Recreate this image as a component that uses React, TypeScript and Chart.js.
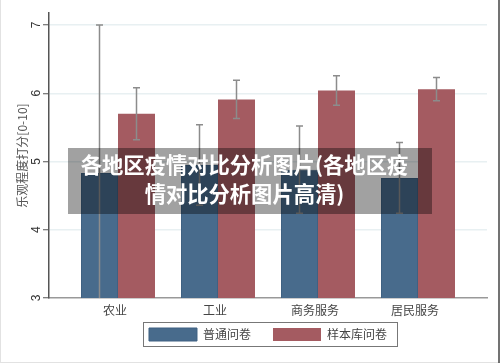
import React, { useEffect, useRef } from 'react';
import { Chart, registerables } from 'chart.js';

Chart.register(...registerables);

const categories = ['农业', '工业', '商务服务', '居民服务'];
const seriesNames = ['普通问卷', '样本库问卷'];
const generalValues = [4.83, 4.95, 4.88, 4.76];
const generalErrors = [2.17, 0.59, 0.64, 0.52];
const sampleValues = [5.7, 5.91, 6.04, 6.06];
const sampleErrors = [0.38, 0.28, 0.215, 0.17];
const yTickValues = [3, 4, 5, 6, 7];
const yTitle = '乐观程度打分[0-10]';
const overlayLine1 = '各地区疫情对比分析图片(各地区疫';
const overlayLine2 = '情对比分析图片高清)';

const FONT = "'Liberation Sans', 'Noto Sans CJK SC', sans-serif";
const CJK = "'Noto Sans CJK SC', sans-serif";
const LEG_PAD = 22;

const errorSets = [generalErrors, sampleErrors];

const bgPlugin = {
  id: 'bg',
  beforeDraw(chart: any) {
    const { ctx, width, height } = chart;
    ctx.save();
    ctx.fillStyle = '#ffffff';
    ctx.fillRect(0, 0, width, height);
    ctx.restore();
  },
  afterDraw(chart: any) {
    const { ctx, width, height } = chart;
    ctx.save();
    ctx.strokeStyle = '#e2e2e2';
    ctx.lineWidth = 1;
    ctx.beginPath();
    ctx.moveTo(0.5, 0);
    ctx.lineTo(0.5, height);
    ctx.moveTo(0, height - 0.5);
    ctx.lineTo(width, height - 0.5);
    ctx.stroke();
    ctx.strokeStyle = '#444';
    ctx.lineWidth = 1.5;
    ctx.beginPath();
    ctx.moveTo(width - 1, 0);
    ctx.lineTo(width - 1, height);
    ctx.stroke();
    ctx.restore();
  },
};

const errorBarPlugin = {
  id: 'errorBars',
  afterDatasetsDraw(chart: any) {
    const { ctx, chartArea } = chart;
    const ys = chart.scales.y;
    ctx.save();
    ctx.beginPath();
    ctx.rect(chartArea.left, chartArea.top - 2, chartArea.right - chartArea.left, chartArea.bottom - chartArea.top + 2);
    ctx.clip();
    ctx.strokeStyle = '#8c8c8c';
    ctx.lineWidth = 1.5;
    chart.data.datasets.forEach((ds: any, di: number) => {
      const meta = chart.getDatasetMeta(di);
      meta.data.forEach((bar: any, i: number) => {
        const v = ds.data[i].y;
        const e = errorSets[di][i];
        const x = bar.x;
        const yT = ys.getPixelForValue(v + e);
        const yB = ys.getPixelForValue(v - e);
        ctx.beginPath();
        ctx.moveTo(x, yT);
        ctx.lineTo(x, yB);
        ctx.moveTo(x - 3.5, yT);
        ctx.lineTo(x + 3.5, yT);
        ctx.moveTo(x - 3.5, yB);
        ctx.lineTo(x + 3.5, yB);
        ctx.stroke();
      });
    });
    ctx.restore();
  },
};

const axisLabelPlugin = {
  id: 'axisLabels',
  afterDraw(chart: any) {
    const { ctx } = chart;
    const ys = chart.scales.y;
    const xs = chart.scales.x;
    ctx.save();
    ctx.fillStyle = '#333';
    ctx.font = `12px ${FONT}`;
    ctx.textAlign = 'center';
    ctx.textBaseline = 'middle';
    yTickValues.forEach((v) => {
      const y = ys.getPixelForValue(v);
      ctx.save();
      ctx.translate(37, y);
      ctx.rotate(-Math.PI / 2);
      ctx.fillText(String(v), 0, 0);
      ctx.restore();
    });
    ctx.fillStyle = '#444';
    ctx.font = `12px ${CJK}`;
    categories.forEach((c, i) => {
      const x = xs.getPixelForValue(i);
      ctx.fillText(c, x - 3, xs.top + 12);
    });
    ctx.restore();
  },
};

const legendFramePlugin = {
  id: 'legendFrame',
  afterDraw(chart: any) {
    const lg = chart.legend;
    if (!lg || !lg.legendHitBoxes || !lg.legendHitBoxes.length) return;
    const hb = lg.legendHitBoxes;
    let l = Infinity, r = -Infinity, t = Infinity, b = -Infinity;
    hb.forEach((h: any) => {
      l = Math.min(l, h.left);
      r = Math.max(r, h.left + h.width);
      t = Math.min(t, h.top);
      b = Math.max(b, h.top + h.height);
    });
    const { ctx } = chart;
    ctx.save();
    ctx.strokeStyle = '#777';
    ctx.lineWidth = 1;
    ctx.strokeRect(Math.round(l - 6) + 0.5, Math.round(t - 6) + 0.5, Math.round(r - l + 16), Math.round(b - t + 11));
    ctx.restore();
  },
};

export default function App() {
  const canvasRef = useRef<HTMLCanvasElement | null>(null);

  useEffect(() => {
    if (!canvasRef.current) return;
    const chart = new Chart(canvasRef.current, {
      type: 'bar',
      data: {
        datasets: [
          {
            label: seriesNames[0],
            data: generalValues.map((v, i) => ({ x: i, y: v })),
            backgroundColor: '#486b8c',
            borderColor: '#3f6182',
            borderWidth: 1,
            categoryPercentage: 0.74,
            barPercentage: 1,
          },
          {
            label: seriesNames[1],
            data: sampleValues.map((v, i) => ({ x: i, y: v })),
            backgroundColor: '#a45b61',
            borderColor: '#a45b61',
            borderWidth: 0,
            categoryPercentage: 0.74,
            barPercentage: 1,
          },
        ],
      } as any,
      options: {
        animation: false,
        responsive: false,
        devicePixelRatio: 1,
        layout: { padding: { top: 13, right: 13, bottom: 12, left: 0 } },
        scales: {
          x: {
            type: 'linear',
            offset: false,
            min: -0.69,
            max: 3.69,
            grid: { display: false, drawTicks: false, offset: false },
            border: { display: true, color: '#999', width: 1.5 },
            ticks: { display: false },
            afterBuildTicks: (scale: any) => {
              scale.ticks = categories.map((_, i) => ({ value: i }));
            },
            afterFit: (scale: any) => {
              scale.height = 30 - LEG_PAD;
            },
          },
          y: {
            type: 'linear',
            min: 3,
            max: 7.176,
            grid: {
              color: (c: any) => (c.tick && c.tick.value === 3 ? 'rgba(0,0,0,0)' : '#e8f0f2'),
              lineWidth: 1.5,
              drawTicks: true,
              tickLength: 6,
              tickColor: '#555',
              tickWidth: 1,
            },
            border: { display: true, color: '#555', width: 1.5 },
            ticks: { display: false },
            title: {
              display: true,
              text: yTitle,
              color: '#555',
              font: { size: 12, family: CJK },
              padding: { top: 15, bottom: 0 },
            },
            afterBuildTicks: (scale: any) => {
              scale.ticks = yTickValues.map((v) => ({ value: v }));
            },
            afterFit: (scale: any) => {
              scale.width = 49;
            },
          },
        },
        plugins: {
          legend: {
            position: 'bottom',
            fullSize: false,
            labels: {
              boxWidth: 48,
              boxHeight: 13,
              padding: LEG_PAD,
              color: '#444',
              font: { size: 12, family: CJK },
            },
          },
          tooltip: { enabled: false },
        },
      } as any,
      plugins: [bgPlugin, errorBarPlugin, axisLabelPlugin, legendFramePlugin],
    });
    return () => chart.destroy();
  }, []);

  return (
    <div style={{ position: 'fixed', left: 0, top: 0, width: 500, height: 363, background: '#fff' }}>
      <canvas ref={canvasRef} width={500} height={363} style={{ display: 'block' }} />
      <div
        style={{
          position: 'absolute',
          left: 68,
          top: 148,
          width: 364,
          height: 66,
          boxSizing: 'border-box',
          paddingRight: 11,
          paddingTop: 1,
          background: 'rgba(0,0,0,0.37)',
          color: '#fff',
          fontFamily: CJK,
          fontWeight: 700,
          fontSize: 21.3,
          lineHeight: '29px',
          textAlign: 'center',
          whiteSpace: 'nowrap',
        }}
      >
        <div>{overlayLine1}</div>
        <div>{overlayLine2}</div>
      </div>
    </div>
  );
}
